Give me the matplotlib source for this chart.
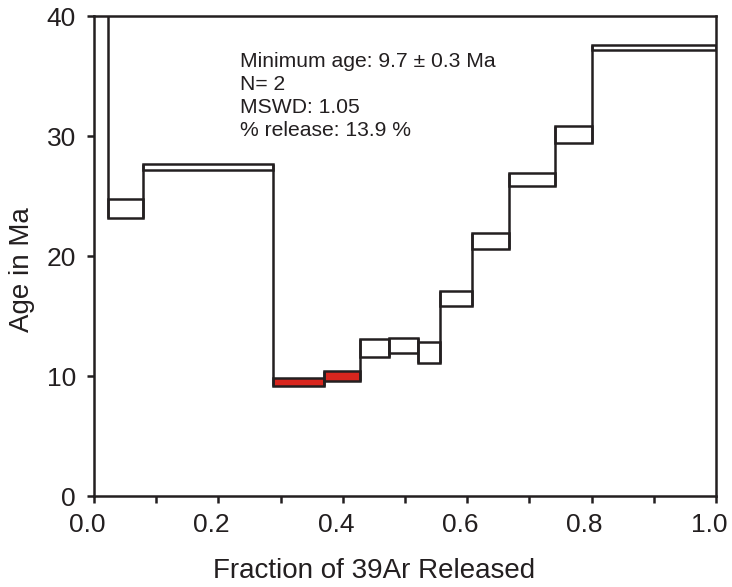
import matplotlib
matplotlib.use("Agg")
import matplotlib.pyplot as plt
from matplotlib.transforms import ScaledTranslation

plt.rcParams['font.family'] = ['Liberation Sans', 'DejaVu Sans']

# Step boundaries (cumulative fraction of 39Ar released)
frac_edges = [0.0, 0.0225, 0.079, 0.288, 0.370, 0.428, 0.475, 0.521, 0.557,
              0.607, 0.667, 0.741, 0.800, 1.0]
# Age envelope (Ma) of each step: upper and lower bounds
age_upper = [60.0, 24.75, 27.65, 9.83, 10.44, 13.08, 13.14, 12.86, 17.08,
             21.90, 26.94, 30.83, 37.60]
age_lower = [50.0, 23.17, 27.20, 9.17, 9.60, 11.60, 11.94, 11.06, 15.83,
             20.56, 25.83, 29.39, 37.17]
# Steps used for minimum age
plateau = [False, False, False, True, True, False, False, False, False,
           False, False, False, False]

x_ticks = [0.0, 0.2, 0.4, 0.6, 0.8, 1.0]
x_minor = [0.1, 0.3, 0.5, 0.7, 0.9]
y_ticks = [0, 10, 20, 30, 40]

info_lines = ["Minimum age: 9.7 \u00b1 0.3 Ma", "N= 2", "MSWD: 1.05",
              "% release: 13.9 %"]

ink = '#231f20'
red = '#d8261e'
lw = 1.8

W, H = 732, 587
fig = plt.figure(figsize=(W/100, H/100), dpi=100)
ax = fig.add_axes([94/W, 1 - 496/H, (716-94)/W, (496-16)/H])

n = len(age_upper)
lefts = frac_edges[:-1]
widths = [frac_edges[i+1] - frac_edges[i] for i in range(n)]
heights = [age_upper[i] - age_lower[i] for i in range(n)]
colors = [red if p else 'white' for p in plateau]
ax.bar(lefts, heights, width=widths, bottom=age_lower, align='edge',
       color=colors, edgecolor=ink, linewidth=lw, zorder=2)

# connectors between adjacent steps
for i in range(n - 1):
    lo = min(age_lower[i], age_lower[i+1])
    hi = max(age_upper[i], age_upper[i+1])
    ax.vlines(frac_edges[i+1], lo, hi, color=ink, linewidth=lw, zorder=3)

ax.set_xlim(0, 1.0)
ax.set_ylim(0, 40)
ax.set_xticks(x_ticks)
ax.set_xticks(x_minor, minor=True)
ax.set_xticklabels([f"{t:.1f}" for t in x_ticks])
ax.set_yticks(y_ticks)
ax.set_yticklabels([str(t) for t in y_ticks])

for s in ax.spines.values():
    s.set_linewidth(lw)
    s.set_color(ink)
    s.set_zorder(4)

ax.tick_params(axis='both', which='both', direction='out', color=ink,
               width=lw, length=5, labelsize=19, labelcolor=ink)
ax.tick_params(axis='x', which='major', pad=7)
ax.tick_params(axis='y', which='major', pad=8)

shift = ScaledTranslation(-7/100, 0, fig.dpi_scale_trans)
for lab in ax.get_xticklabels():
    lab.set_transform(lab.get_transform() + shift)

fig.text(374/W, 1 - 571/H, "Fraction of 39Ar Released", fontsize=20,
         color=ink, ha='center', va='center')
fig.text(22/W, 1 - 270/H, "Age in Ma", fontsize=20, color=ink,
         ha='center', va='center', rotation=90)

ax.text(0.235, 0.925, "\n".join(info_lines), transform=ax.transAxes,
        ha='left', va='top', fontsize=15.2, color=ink, linespacing=1.27)

fig.savefig("out.png", dpi=100)
